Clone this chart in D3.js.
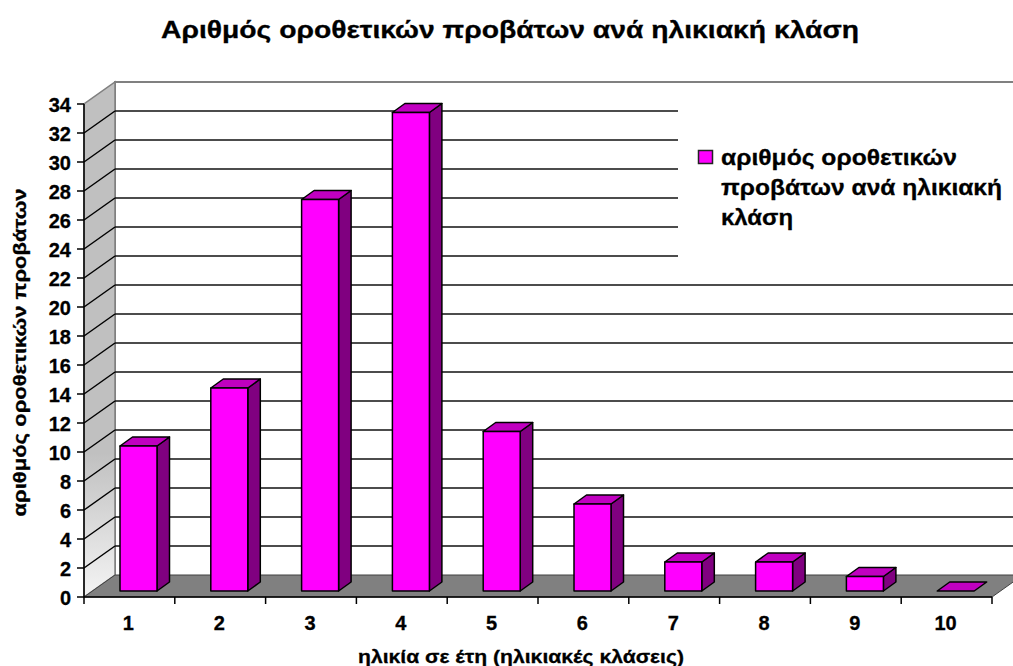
<!DOCTYPE html>
<html><head><meta charset="utf-8">
<script src="https://cdn.jsdelivr.net/npm/d3@7"></script>
<style>html,body{margin:0;background:#fff}svg{display:block}text{font-family:"Liberation Sans",Arial,sans-serif;font-weight:bold;fill:#000;stroke:#000;stroke-width:.3px}</style>
</head><body><svg id="c" width="1013" height="666"></svg>
<script>
const categories=["1","2","3","4","5","6","7","8","9","10"];
const values=[10,14,27,33,11,6,2,2,1,0];
const yTicks=d3.range(0,35,2);
const titleText="Αριθμός οροθετικών προβάτων ανά ηλικιακή κλάση";
const xTitle="ηλικία σε έτη (ηλικιακές κλάσεις)";
const yTitle="αριθμός οροθετικών προβάτων";
const legendLines=["αριθμός οροθετικών","προβάτων ανά ηλικιακή","κλάση"];
const legendWidths=[236,281,72];

const svg=d3.select("#c");
const x=d3.scaleBand().domain(categories).range([84,992]);
const y=d3.scaleLinear().domain([0,34]).range([597,104]);
const dx=31,dy=22,barW=37;
const barDx=12.5,barDy=9,barLift=6;
const pts=a=>a.map(p=>p.join(",")).join(" ");
const fit=(s,w)=>s.attr("textLength",w).attr("lengthAdjust","spacingAndGlyphs");

const grad=svg.append("defs").append("linearGradient").attr("id","wall").attr("x1",0).attr("x2",0).attr("y1",0).attr("y2",1);
grad.append("stop").attr("offset","0.72").attr("stop-color","#c0c0c0");
grad.append("stop").attr("offset","1").attr("stop-color","#f4f4f4");

// back wall
svg.append("rect").attr("x",84+dx).attr("y",y(34)-dy).attr("width",1013-84-dx).attr("height",y(0)-y(34))
  .attr("fill","#fff");
svg.append("path").attr("d",`M${84+dx},${y(0)-dy}V${y(34)-dy}H1013`).attr("fill","none").attr("stroke","#808080").attr("stroke-width",2);
// side wall
svg.append("polygon").attr("points",pts([[84,y(0)],[84,y(34)],[84+dx,y(34)-dy],[84+dx,y(0)-dy]]))
  .attr("fill","url(#wall)").attr("stroke","#808080").attr("stroke-width",1.5);
// floor
svg.append("polygon").attr("points",pts([[84,y(0)],[992,y(0)],[992+dx,y(0)-dy],[84+dx,y(0)-dy]]))
  .attr("fill","#808080").attr("stroke","#404040").attr("stroke-width",1);

// gridlines
const grid=yTicks.filter(d=>d>0&&d<34);
svg.append("g").selectAll("line.wall").data(grid).join("line")
  .attr("x1",84).attr("x2",84+dx).attr("y1",d=>y(d)).attr("y2",d=>y(d)-dy).attr("stroke","#000").attr("stroke-width",1.5);
svg.append("g").selectAll("line.back").data(grid).join("line")
  .attr("x1",84+dx).attr("x2",d=>d>=22?678:1013).attr("y1",d=>y(d)-dy).attr("y2",d=>y(d)-dy).attr("stroke","#111").attr("stroke-width",1.5);

// axes
svg.append("line").attr("x1",84).attr("x2",84).attr("y1",y(34)).attr("y2",y(0)).attr("stroke","#000").attr("stroke-width",1.5);
const xTickPos=categories.map(c=>x(c)).concat([992]);
svg.append("line").attr("x1",84).attr("x2",992).attr("y1",y(0)).attr("y2",y(0)).attr("stroke","#000").attr("stroke-width",1.5);
svg.append("g").selectAll("line").data(xTickPos).join("line").attr("x1",d=>d).attr("x2",d=>d).attr("y1",y(0)).attr("y2",y(0)+7).attr("stroke","#000").attr("stroke-width",1.5);
svg.append("g").selectAll("line").data(yTicks).join("line").attr("x1",77).attr("x2",84).attr("y1",d=>y(d)).attr("y2",d=>y(d)).attr("stroke","#000").attr("stroke-width",1.5);
svg.append("g").selectAll("text").data(yTicks).join("text").attr("x",71).attr("y",d=>y(d)+7.5).attr("text-anchor","end").attr("font-size",20).text(d=>d);
svg.append("g").selectAll("text").data(categories).join("text").attr("x",d=>x(d)+x.bandwidth()/2-1).attr("y",630).attr("text-anchor","middle").attr("font-size",20).text(d=>d);

// bars
const bars=svg.append("g").selectAll("g").data(categories.map((c,i)=>({c,v:values[i]}))).join("g");
const bx=d=>x(d.c)+36;
const by=d=>y(d.v)-barLift, b0=y(0)-barLift;
const st=g=>g.attr("stroke","#000").attr("stroke-width",1.5).attr("stroke-linejoin","round");
bars.filter(d=>d.v>0).append("polygon").call(st).attr("fill","#800080")
  .attr("points",d=>pts([[bx(d)+barW,by(d)],[bx(d)+barW+barDx,by(d)-barDy],[bx(d)+barW+barDx,b0-barDy],[bx(d)+barW,b0]]));
bars.append("polygon").call(st).attr("fill","#c000c0")
  .attr("points",d=>pts([[bx(d),by(d)],[bx(d)+barDx,by(d)-barDy],[bx(d)+barW+barDx,by(d)-barDy],[bx(d)+barW,by(d)]]));
bars.filter(d=>d.v>0).append("rect").call(st).attr("fill","#ff00ff")
  .attr("x",bx).attr("y",by).attr("width",barW).attr("height",d=>b0-by(d));

// titles
svg.append("text").attr("x",510).attr("y",38).attr("text-anchor","middle").attr("font-size",23).call(fit,698).text(titleText);
svg.append("text").attr("x",521).attr("y",663).attr("text-anchor","middle").attr("font-size",19).call(fit,326).text(xTitle);
svg.append("text").attr("transform","translate(25.5,352.5) rotate(-90)").attr("text-anchor","middle").attr("font-size",19).call(fit,328).text(yTitle);

// legend
svg.append("rect").attr("x",698.5).attr("y",150.5).attr("width",14).attr("height",13).attr("fill","#ff00ff").attr("stroke","#222").attr("stroke-width",1.5);
svg.append("g").selectAll("text").data(legendLines).join("text").attr("x",721).attr("y",(d,i)=>165+i*30).attr("font-size",22).each(function(d,i){d3.select(this).call(fit,legendWidths[i]);}).text(d=>d);
</script></body></html>
